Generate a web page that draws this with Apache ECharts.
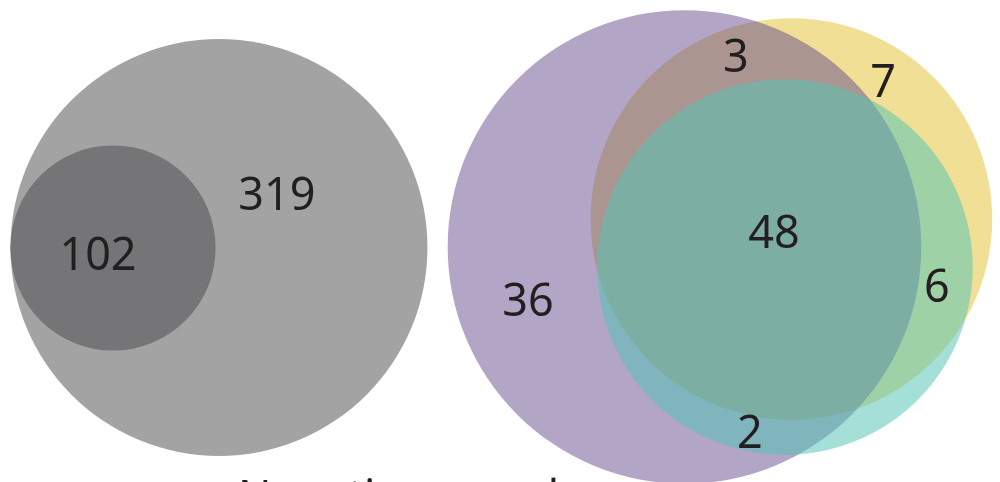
<!DOCTYPE html>
<html>
<head>
<meta charset="utf-8">
<script src="https://cdn.jsdelivr.net/npm/echarts@6/dist/echarts.min.js"></script>
<style>
html,body{margin:0;padding:0;background:#fff;}
#chart{width:1000px;height:482px;}
</style>
</head>
<body>
<div id="chart"></div>
<script>
// ---- Data ----
// Left diagram: subset nested inside whole set
var leftOnly = 319;      // outer set exclusive
var leftInner = 102;     // inner subset
// Right diagram region counts
var purpleOnly = 36;
var purpleYellow = 3;    // purple ∩ yellow only
var yellowOnly = 7;
var allThree = 48;
var yellowCyan = 6;      // yellow ∩ cyan only
var purpleCyan = 2;      // purple ∩ cyan only
var captionText = 'Negative samples';

// set totals (area-proportional circles: radius = sqrt(total))
var leftTotal = leftOnly + leftInner;
var purpleTotal = purpleOnly + purpleYellow + allThree + purpleCyan;
var yellowTotal = purpleYellow + yellowOnly + allThree + yellowCyan;
var cyanTotal = allThree + yellowCyan + purpleCyan;

// ---- Layout (diagram units) ----
var leftScale = 10.16;   // px per unit, left diagram
var rightScale = 25.1;   // px per unit, right diagram
var leftCenters = [[21.555, 24.36], [11.12, 24.41]];
var rightCenters = [[31.53, 8.725], [27.27, 9.84], [31.27, 10.64]];
var leftLabelPos = [[27.26, 19.09], [9.646, 25.0]];
var rightLabelPos = [[21.04, 11.95], [29.32, 2.23], [35.18, 3.23], [30.84, 9.24], [37.33, 11.39], [29.88, 17.21]];

var W = 1000, H = 482;
var textColor = '#231f20';
var font = '"Noto Sans", "Open Sans", sans-serif';

var leftCircles = [
  {value: [leftCenters[0][0], leftCenters[0][1], Math.sqrt(leftTotal)], color: '#a3a3a3', opacity: 1},
  {value: [leftCenters[1][0], leftCenters[1][1], Math.sqrt(leftInner)], color: '#757577', opacity: 1}
];
var rightCircles = [
  {value: [rightCenters[0][0], rightCenters[0][1], Math.sqrt(yellowTotal)], color: 'rgb(240,223,149)', opacity: 1},
  {value: [rightCenters[1][0], rightCenters[1][1], Math.sqrt(purpleTotal)], color: 'rgb(100,71,139)', opacity: 0.49},
  {value: [rightCenters[2][0], rightCenters[2][1], Math.sqrt(cyanTotal)], color: 'rgb(85,197,181)', opacity: 0.53}
];
var leftLabels = [leftOnly, leftInner].map(function (v, i) {
  return [leftLabelPos[i][0], leftLabelPos[i][1], v];
});
var rightLabels = [purpleOnly, purpleYellow, yellowOnly, allThree, yellowCyan, purpleCyan].map(function (v, i) {
  return [rightLabelPos[i][0], rightLabelPos[i][1], v];
});

function circleItem(params, api) {
  var c = api.coord([api.value(0), api.value(1)]);
  var r = api.size([api.value(2), 0])[0];
  var d = params.dataIndex;
  var src = params.seriesIndex === 0 ? leftCircles[d] : rightCircles[d];
  return {
    type: 'circle',
    shape: {cx: c[0], cy: c[1], r: r},
    style: {fill: src.color, opacity: src.opacity}
  };
}
function labelItem(params, api) {
  var c = api.coord([api.value(0), api.value(1)]);
  return {
    type: 'text',
    x: c[0], y: c[1] + 3,
    style: {
      text: String(api.value(2)),
      fill: textColor,
      font: '45px ' + font,
      align: 'center',
      verticalAlign: 'middle'
    }
  };
}

var chart = echarts.init(document.getElementById('chart'), null, {renderer: 'canvas'});
chart.setOption({
  animation: false,
  backgroundColor: '#fff',
  title: {
    text: captionText,
    left: 233,
    top: 471,
    textStyle: {fontSize: 44, fontWeight: 'normal', color: textColor, fontFamily: font}
  },
  grid: [
    {left: 0, top: 0, width: W, height: H},
    {left: 0, top: 0, width: W, height: H}
  ],
  xAxis: [
    {type: 'value', gridIndex: 0, min: 0, max: W / leftScale, show: false},
    {type: 'value', gridIndex: 1, min: 0, max: W / rightScale, show: false}
  ],
  yAxis: [
    {type: 'value', gridIndex: 0, min: 0, max: H / leftScale, inverse: true, show: false},
    {type: 'value', gridIndex: 1, min: 0, max: H / rightScale, inverse: true, show: false}
  ],
  series: [
    {type: 'custom', xAxisIndex: 0, yAxisIndex: 0, renderItem: circleItem, data: leftCircles.map(function (d) { return d.value; }), z: 1, silent: true},
    {type: 'custom', xAxisIndex: 1, yAxisIndex: 1, renderItem: circleItem, data: rightCircles.map(function (d) { return d.value; }), z: 1, silent: true},
    {type: 'custom', xAxisIndex: 0, yAxisIndex: 0, renderItem: labelItem, data: leftLabels, z: 5, silent: true},
    {type: 'custom', xAxisIndex: 1, yAxisIndex: 1, renderItem: labelItem, data: rightLabels, z: 5, silent: true}
  ]
});
</script>
</body>
</html>
